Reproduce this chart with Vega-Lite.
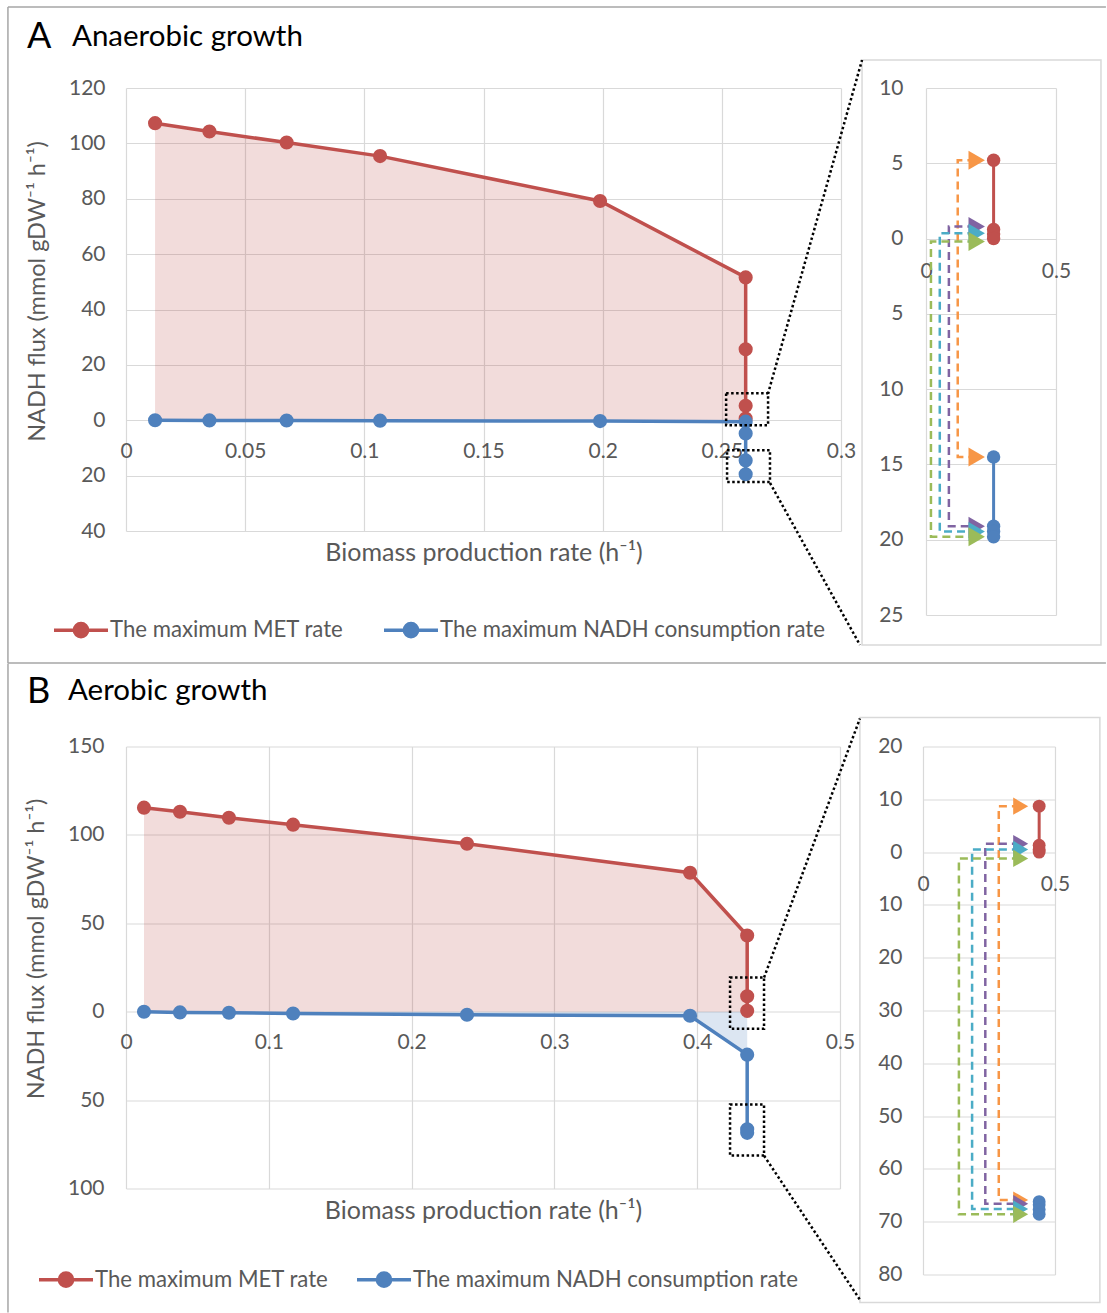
{
"$schema":"https://vega.github.io/schema/vega-lite/v6.json",
"background":"#ffffff",
"padding":{"left":7,"top":6,"right":0,"bottom":0},
"config":{
 "view":{"stroke":null},
 "axis":{"labelFont":"Lato","labelFontSize":21,"labelColor":"#595959","titleFont":"Lato","titleFontSize":24,"titleFontWeight":"normal","titleColor":"#595959","gridColor":"#d9d9d9","gridWidth":1.2,"domain":false,"ticks":false,"tickSize":0,"labelFlush":false,"labelOverlap":false},
 "axisX":{"titleFontSize":25},
 "axisY":{"titleFontSize":23.5}
},
"datasets":{
 "mainA":[
  {"s":"The maximum MET rate","i":1,"x":0.0122,"y":107.3},
  {"s":"The maximum MET rate","i":2,"x":0.035,"y":104.3},
  {"s":"The maximum MET rate","i":3,"x":0.0674,"y":100.3},
  {"s":"The maximum MET rate","i":4,"x":0.1066,"y":95.4},
  {"s":"The maximum MET rate","i":5,"x":0.1989,"y":79.2},
  {"s":"The maximum MET rate","i":6,"x":0.26,"y":51.6},
  {"s":"The maximum MET rate","i":7,"x":0.26,"y":25.6},
  {"s":"The maximum MET rate","i":8,"x":0.26,"y":5.2},
  {"s":"The maximum MET rate","i":9,"x":0.26,"y":0.6},
  {"s":"The maximum NADH consumption rate","i":1,"x":0.0122,"y":0},
  {"s":"The maximum NADH consumption rate","i":2,"x":0.035,"y":-0.05},
  {"s":"The maximum NADH consumption rate","i":3,"x":0.0674,"y":-0.1},
  {"s":"The maximum NADH consumption rate","i":4,"x":0.1066,"y":-0.15},
  {"s":"The maximum NADH consumption rate","i":5,"x":0.1989,"y":-0.3},
  {"s":"The maximum NADH consumption rate","i":6,"x":0.26,"y":-0.5},
  {"s":"The maximum NADH consumption rate","i":7,"x":0.26,"y":-4.8},
  {"s":"The maximum NADH consumption rate","i":8,"x":0.26,"y":-14.5},
  {"s":"The maximum NADH consumption rate","i":9,"x":0.26,"y":-19.5}
 ],
 "mainB":[
  {"s":"The maximum MET rate","i":1,"x":0.0126,"y":115.4},
  {"s":"The maximum MET rate","i":2,"x":0.0378,"y":113.1},
  {"s":"The maximum MET rate","i":3,"x":0.0721,"y":109.7},
  {"s":"The maximum MET rate","i":4,"x":0.117,"y":105.8},
  {"s":"The maximum MET rate","i":5,"x":0.2388,"y":95.0},
  {"s":"The maximum MET rate","i":6,"x":0.395,"y":78.6},
  {"s":"The maximum MET rate","i":7,"x":0.435,"y":43.1},
  {"s":"The maximum MET rate","i":8,"x":0.435,"y":8.7},
  {"s":"The maximum MET rate","i":9,"x":0.435,"y":0.5},
  {"s":"The maximum NADH consumption rate","i":1,"x":0.0126,"y":0},
  {"s":"The maximum NADH consumption rate","i":2,"x":0.0378,"y":-0.4},
  {"s":"The maximum NADH consumption rate","i":3,"x":0.0721,"y":-0.6},
  {"s":"The maximum NADH consumption rate","i":4,"x":0.117,"y":-1.0},
  {"s":"The maximum NADH consumption rate","i":5,"x":0.2388,"y":-1.7},
  {"s":"The maximum NADH consumption rate","i":6,"x":0.395,"y":-2.3},
  {"s":"The maximum NADH consumption rate","i":7,"x":0.435,"y":-24.3},
  {"s":"The maximum NADH consumption rate","i":8,"x":0.435,"y":-66.5},
  {"s":"The maximum NADH consumption rate","i":9,"x":0.435,"y":-68.5}
 ],
 "insA":[
  {"s":"The maximum MET rate","i":1,"x":0.26,"y":5.2},
  {"s":"The maximum MET rate","i":2,"x":0.26,"y":0.6},
  {"s":"The maximum MET rate","i":3,"x":0.26,"y":0.3},
  {"s":"The maximum MET rate","i":4,"x":0.26,"y":0},
  {"s":"The maximum NADH consumption rate","i":1,"x":0.26,"y":-14.5},
  {"s":"The maximum NADH consumption rate","i":2,"x":0.26,"y":-19.1},
  {"s":"The maximum NADH consumption rate","i":3,"x":0.26,"y":-19.45},
  {"s":"The maximum NADH consumption rate","i":4,"x":0.26,"y":-19.8}
 ],
 "connA":[
  {"s":"c1","i":1,"x":0.19,"y":5.2},{"s":"c1","i":2,"x":0.122,"y":5.2},{"s":"c1","i":3,"x":0.122,"y":-14.5},{"s":"c1","i":4,"x":0.19,"y":-14.5},
  {"s":"c2","i":1,"x":0.19,"y":0.8},{"s":"c2","i":2,"x":0.088,"y":0.8},{"s":"c2","i":3,"x":0.088,"y":-19.1},{"s":"c2","i":4,"x":0.19,"y":-19.1},
  {"s":"c3","i":1,"x":0.19,"y":0.35},{"s":"c3","i":2,"x":0.053,"y":0.35},{"s":"c3","i":3,"x":0.053,"y":-19.45},{"s":"c3","i":4,"x":0.19,"y":-19.45},
  {"s":"c4","i":1,"x":0.19,"y":-0.2},{"s":"c4","i":2,"x":0.019,"y":-0.2},{"s":"c4","i":3,"x":0.019,"y":-19.8},{"s":"c4","i":4,"x":0.19,"y":-19.8}
 ],
 "arrA":[
  {"s":"c1","x":0.195,"y":5.2},{"s":"c1","x":0.195,"y":-14.5},
  {"s":"c2","x":0.195,"y":0.8},{"s":"c2","x":0.195,"y":-19.1},
  {"s":"c3","x":0.195,"y":0.35},{"s":"c3","x":0.195,"y":-19.45},
  {"s":"c4","x":0.195,"y":-0.2},{"s":"c4","x":0.195,"y":-19.8}
 ],
 "insB":[
  {"s":"The maximum MET rate","i":1,"x":0.44,"y":8.7},
  {"s":"The maximum MET rate","i":2,"x":0.44,"y":1.3},
  {"s":"The maximum MET rate","i":3,"x":0.44,"y":0.5},
  {"s":"The maximum MET rate","i":4,"x":0.44,"y":0},
  {"s":"The maximum NADH consumption rate","i":1,"x":0.44,"y":-66.2},
  {"s":"The maximum NADH consumption rate","i":2,"x":0.44,"y":-66.8},
  {"s":"The maximum NADH consumption rate","i":3,"x":0.44,"y":-67.7},
  {"s":"The maximum NADH consumption rate","i":4,"x":0.44,"y":-68.6}
 ],
 "connB":[
  {"s":"c1","i":1,"x":0.367,"y":8.7},{"s":"c1","i":2,"x":0.287,"y":8.7},{"s":"c1","i":3,"x":0.287,"y":-65.9},{"s":"c1","i":4,"x":0.367,"y":-65.9},
  {"s":"c2","i":1,"x":0.367,"y":1.6},{"s":"c2","i":2,"x":0.236,"y":1.6},{"s":"c2","i":3,"x":0.236,"y":-66.6},{"s":"c2","i":4,"x":0.367,"y":-66.6},
  {"s":"c3","i":1,"x":0.367,"y":0.5},{"s":"c3","i":2,"x":0.186,"y":0.5},{"s":"c3","i":3,"x":0.186,"y":-67.6},{"s":"c3","i":4,"x":0.367,"y":-67.6},
  {"s":"c4","i":1,"x":0.367,"y":-1.2},{"s":"c4","i":2,"x":0.136,"y":-1.2},{"s":"c4","i":3,"x":0.136,"y":-68.6},{"s":"c4","i":4,"x":0.367,"y":-68.6}
 ],
 "arrB":[
  {"s":"c1","x":0.37,"y":8.7},{"s":"c1","x":0.37,"y":-65.9},
  {"s":"c2","x":0.37,"y":1.6},{"s":"c2","x":0.37,"y":-66.6},
  {"s":"c3","x":0.37,"y":0.5},{"s":"c3","x":0.37,"y":-67.6},
  {"s":"c4","x":0.37,"y":-1.2},{"s":"c4","x":0.37,"y":-68.6}
 ]
},
"spacing":-1.5,
"resolve":{"scale":{"color":"independent"},"legend":{"color":"independent"}},
"vconcat":[
 {
  "title":{"text":"A","anchor":"start","frame":"group","dx":-99,"offset":-50,"fontSize":36,"font":"Lato","fontWeight":"normal","color":"#000000"},
  "bounds":"flush",
  "spacing":85,
  "resolve":{"scale":{"color":"independent"},"legend":{"color":"independent"}},
  "hconcat":[
   {
    "width":715,"height":443,
    "title":{"text":"Anaerobic growth","anchor":"start","frame":"group","dx":-54,"offset":25,"fontSize":29.5,"font":"Lato","fontWeight":"normal","color":"#000000"},
    "layer":[
     {"data":{"name":"mainA"},"transform":[{"filter":"datum.s === 'The maximum MET rate'"}],
      "mark":{"type":"area","color":"#C0504D","opacity":0.2},
      "encoding":{
       "x":{"field":"x","type":"quantitative","scale":{"domain":[0,0.3],"nice":false,"zero":false},
            "axis":{"values":[0,0.05,0.1,0.15,0.2,0.25,0.3],"format":"~g","offset":-111,"labelPadding":20,"grid":true,"title":"Biomass production rate (h⁻¹)","titlePadding":79}},
       "y":{"field":"y","type":"quantitative","scale":{"domain":[-40,120],"nice":false,"zero":false},
            "axis":{"values":[-40,-20,0,20,40,60,80,100,120],"labelExpr":"format(abs(datum.value),'~g')","labelPadding":21,"grid":true,"title":"NADH flux (mmol gDW⁻¹ h⁻¹)","titlePadding":19,"titleY":203}},
       "y2":{"datum":0}
      }},
     {"data":{"name":"mainA"},"transform":[{"filter":"datum.s === 'The maximum NADH consumption rate'"}],
      "mark":{"type":"area","color":"#4F81BD","opacity":0.2},
      "encoding":{"x":{"field":"x","type":"quantitative"},"y":{"field":"y","type":"quantitative"},"y2":{"datum":0}}},
     {"data":{"name":"mainA"},
      "mark":{"type":"line","strokeWidth":3.5},
      "encoding":{"x":{"field":"x","type":"quantitative"},"y":{"field":"y","type":"quantitative"},
       "order":{"field":"i","type":"quantitative"},
       "color":{"field":"s","type":"nominal","scale":{"domain":["The maximum MET rate","The maximum NADH consumption rate"],"range":["#C0504D","#4F81BD"]},
        "legend":{"orient":"none","legendX":-59,"legendY":528,"direction":"horizontal","title":null,"labelLimit":0,
         "symbolType":"M-2.25,0H2.25M0.55,0A0.55,0.55,0,1,1,-0.55,0A0.55,0.55,0,1,1,0.55,0Z","symbolSize":576,"symbolStrokeWidth":3.5,
         "labelOffset":15,"columnPadding":33,"labelFontSize":22.2,"labelFont":"Lato","labelColor":"#595959",
         "encode":{"symbols":{"update":{"fill":{"signal":"datum.value === 'The maximum MET rate' ? '#C0504D' : '#4F81BD'"},"stroke":{"signal":"datum.value === 'The maximum MET rate' ? '#C0504D' : '#4F81BD'"},"strokeWidth":{"value":3.5},"opacity":{"value":1}}}}}}}},
     {"data":{"name":"mainA"},
      "mark":{"type":"point","filled":true,"size":200,"opacity":1},
      "encoding":{"x":{"field":"x","type":"quantitative"},"y":{"field":"y","type":"quantitative"},"color":{"field":"s","type":"nominal"}}},
     {"data":{"values":[{}]},"mark":{"type":"rect","fill":"transparent","stroke":"#000000","strokeWidth":2.5,"strokeDash":[2.5,2.5]},
      "encoding":{"x":{"datum":0.2518,"type":"quantitative"},"x2":{"datum":0.2694},"y":{"datum":9.75,"type":"quantitative"},"y2":{"datum":-1.8}}},
     {"data":{"values":[{}]},"mark":{"type":"rect","fill":"transparent","stroke":"#000000","strokeWidth":2.5,"strokeDash":[2.5,2.5]},
      "encoding":{"x":{"datum":0.2522,"type":"quantitative"},"x2":{"datum":0.2702},"y":{"datum":-10.8,"type":"quantitative"},"y2":{"datum":-22.3}}}
    ]
   },
   {
    "width":130,"height":527,
    "layer":[
     {"data":{"values":[{}]},"mark":{"type":"rect","fill":"transparent","stroke":"#d9d9d9","strokeWidth":1.5},
      "encoding":{
       "x":{"datum":-0.246,"type":"quantitative","scale":{"domain":[0,0.5],"nice":false,"zero":false},
            "axis":{"values":[0,0.5],"format":"~g","offset":-376,"labelPadding":21,"grid":true,"title":null}},
       "x2":{"datum":0.673},
       "y":{"datum":11.86,"type":"quantitative","scale":{"domain":[-25,10],"nice":false,"zero":false},
            "axis":{"values":[-25,-20,-15,-10,-5,0,5,10],"labelExpr":"format(abs(datum.value),'~g')","labelPadding":23,"grid":true,"title":null}},
       "y2":{"datum":-26.99}}},
     {"data":{"values":[{}]},"mark":{"type":"rule","stroke":"#a6a6a6","strokeWidth":1.5},
      "encoding":{"x":{"datum":-3.531,"type":"quantitative"},"x2":{"datum":0.692},"y":{"datum":15.38,"type":"quantitative"}}},
     {"data":{"values":[{}]},"mark":{"type":"rule","stroke":"#a6a6a6","strokeWidth":1.5},
      "encoding":{"x":{"datum":-3.531,"type":"quantitative"},"y":{"datum":15.38,"type":"quantitative"},"y2":{"datum":-28.19}}},
     {"data":{"values":[{}]},"mark":{"type":"rule","stroke":"#a6a6a6","strokeWidth":1.5},
      "encoding":{"x":{"datum":-3.531,"type":"quantitative"},"x2":{"datum":0.692},"y":{"datum":-28.19,"type":"quantitative"}}},
     {"data":{"values":[{}]},"mark":{"type":"rule","stroke":"#000000","strokeWidth":2.5,"strokeDash":[2.5,2.5]},
      "encoding":{"x":{"datum":-0.608,"type":"quantitative"},"x2":{"datum":-0.246},"y":{"datum":-10.32,"type":"quantitative"},"y2":{"datum":11.86}}},
     {"data":{"values":[{}]},"mark":{"type":"rule","stroke":"#000000","strokeWidth":2.5,"strokeDash":[2.5,2.5]},
      "encoding":{"x":{"datum":-0.6,"type":"quantitative"},"x2":{"datum":-0.254},"y":{"datum":-16.23,"type":"quantitative"},"y2":{"datum":-26.99}}},
     {"data":{"name":"connA"},"mark":{"type":"line","strokeWidth":2.5,"strokeDash":[8,5]},
      "encoding":{"x":{"field":"x","type":"quantitative"},"y":{"field":"y","type":"quantitative"},"order":{"field":"i","type":"quantitative"},
       "color":{"field":"s","type":"nominal","legend":null,"scale":{"domain":["The maximum MET rate","The maximum NADH consumption rate","c1","c2","c3","c4"],"range":["#C0504D","#4F81BD","#F79646","#8064A2","#4BACC6","#9BBB59"]}}}},
     {"data":{"name":"arrA"},"mark":{"type":"point","shape":"triangle-right","filled":true,"size":360,"opacity":1},
      "encoding":{"x":{"field":"x","type":"quantitative"},"y":{"field":"y","type":"quantitative"},"color":{"field":"s","type":"nominal","legend":null}}},
     {"data":{"name":"insA"},"mark":{"type":"line","strokeWidth":3},
      "encoding":{"x":{"field":"x","type":"quantitative"},"y":{"field":"y","type":"quantitative"},"order":{"field":"i","type":"quantitative"},"color":{"field":"s","type":"nominal","legend":null}}},
     {"data":{"name":"insA"},"mark":{"type":"point","filled":true,"size":180,"opacity":1},
      "encoding":{"x":{"field":"x","type":"quantitative"},"y":{"field":"y","type":"quantitative"},"color":{"field":"s","type":"nominal","legend":null}}}
    ]
   }
  ]
 },
 {
  "title":{"text":"B","anchor":"start","frame":"group","dx":-99,"offset":-48,"fontSize":36,"font":"Lato","fontWeight":"normal","color":"#000000"},
  "bounds":"flush",
  "spacing":83,
  "resolve":{"scale":{"color":"independent"},"legend":{"color":"independent"}},
  "hconcat":[
   {
    "width":714,"height":442,
    "title":{"text":"Aerobic growth","anchor":"start","frame":"group","dx":-58,"offset":29,"fontSize":29.5,"font":"Lato","fontWeight":"normal","color":"#000000"},
    "layer":[
     {"data":{"name":"mainB"},"transform":[{"filter":"datum.s === 'The maximum MET rate'"}],
      "mark":{"type":"area","color":"#C0504D","opacity":0.2},
      "encoding":{
       "x":{"field":"x","type":"quantitative","scale":{"domain":[0,0.5],"nice":false,"zero":false},
            "axis":{"values":[0,0.1,0.2,0.3,0.4,0.5],"format":"~g","offset":-177,"labelPadding":20,"grid":true,"title":"Biomass production rate (h⁻¹)","titlePadding":146}},
       "y":{"field":"y","type":"quantitative","scale":{"domain":[-100,150],"nice":false,"zero":false},
            "axis":{"values":[-100,-50,0,50,100,150],"labelExpr":"format(abs(datum.value),'~g')","labelPadding":22,"grid":true,"title":"NADH flux (mmol gDW⁻¹ h⁻¹)","titlePadding":19,"titleY":202}},
       "y2":{"datum":0}
      }},
     {"data":{"name":"mainB"},"transform":[{"filter":"datum.s === 'The maximum NADH consumption rate'"}],
      "mark":{"type":"area","color":"#4F81BD","opacity":0.2},
      "encoding":{"x":{"field":"x","type":"quantitative"},"y":{"field":"y","type":"quantitative"},"y2":{"datum":0}}},
     {"data":{"name":"mainB"},
      "mark":{"type":"line","strokeWidth":3.5},
      "encoding":{"x":{"field":"x","type":"quantitative"},"y":{"field":"y","type":"quantitative"},
       "order":{"field":"i","type":"quantitative"},
       "color":{"field":"s","type":"nominal","scale":{"domain":["The maximum MET rate","The maximum NADH consumption rate"],"range":["#C0504D","#4F81BD"]},
        "legend":{"orient":"none","legendX":-74,"legendY":519,"direction":"horizontal","title":null,"labelLimit":0,
         "symbolType":"M-2.25,0H2.25M0.55,0A0.55,0.55,0,1,1,-0.55,0A0.55,0.55,0,1,1,0.55,0Z","symbolSize":576,"symbolStrokeWidth":3.5,
         "labelOffset":15,"columnPadding":21,"labelFontSize":22.2,"labelFont":"Lato","labelColor":"#595959",
         "encode":{"symbols":{"update":{"fill":{"signal":"datum.value === 'The maximum MET rate' ? '#C0504D' : '#4F81BD'"},"stroke":{"signal":"datum.value === 'The maximum MET rate' ? '#C0504D' : '#4F81BD'"},"strokeWidth":{"value":3.5},"opacity":{"value":1}}}}}}}},
     {"data":{"name":"mainB"},
      "mark":{"type":"point","filled":true,"size":200,"opacity":1},
      "encoding":{"x":{"field":"x","type":"quantitative"},"y":{"field":"y","type":"quantitative"},"color":{"field":"s","type":"nominal"}}},
     {"data":{"values":[{}]},"mark":{"type":"rect","fill":"transparent","stroke":"#000000","strokeWidth":2.5,"strokeDash":[2.5,2.5]},
      "encoding":{"x":{"datum":0.423,"type":"quantitative"},"x2":{"datum":0.4468},"y":{"datum":19.4,"type":"quantitative"},"y2":{"datum":-9.6}}},
     {"data":{"values":[{}]},"mark":{"type":"rect","fill":"transparent","stroke":"#000000","strokeWidth":2.5,"strokeDash":[2.5,2.5]},
      "encoding":{"x":{"datum":0.423,"type":"quantitative"},"x2":{"datum":0.4468},"y":{"datum":-52.5,"type":"quantitative"},"y2":{"datum":-81.4}}}
    ]
   },
   {
    "width":132,"height":528,
    "layer":[
     {"data":{"values":[{}]},"mark":{"type":"rect","fill":"transparent","stroke":"#d9d9d9","strokeWidth":1.5},
      "encoding":{
       "x":{"datum":-0.239,"type":"quantitative","scale":{"domain":[0,0.5],"nice":false,"zero":false},
            "axis":{"values":[0,0.5],"format":"~g","offset":-422,"labelPadding":21,"grid":true,"title":null}},
       "x2":{"datum":0.67},
       "y":{"datum":25.49,"type":"quantitative","scale":{"domain":[-80,20],"nice":false,"zero":false},
            "axis":{"values":[-80,-70,-60,-50,-40,-30,-20,-10,0,10,20],"labelExpr":"format(abs(datum.value),'~g')","labelPadding":21,"grid":true,"title":null}},
       "y2":{"datum":-85.3}}},
     {"data":{"values":[{}]},"mark":{"type":"rule","stroke":"#a6a6a6","strokeWidth":1.5},
      "encoding":{"x":{"datum":-3.466,"type":"quantitative"},"y":{"datum":35.72,"type":"quantitative"},"y2":{"datum":-87.2}}},
     {"data":{"values":[{}]},"mark":{"type":"rule","stroke":"#000000","strokeWidth":2.5,"strokeDash":[2.5,2.5]},
      "encoding":{"x":{"datum":-0.602,"type":"quantitative"},"x2":{"datum":-0.239},"y":{"datum":-23.75,"type":"quantitative"},"y2":{"datum":25.3}}},
     {"data":{"values":[{}]},"mark":{"type":"rule","stroke":"#000000","strokeWidth":2.5,"strokeDash":[2.5,2.5]},
      "encoding":{"x":{"datum":-0.602,"type":"quantitative"},"x2":{"datum":-0.239},"y":{"datum":-57.5,"type":"quantitative"},"y2":{"datum":-84.77}}},
     {"data":{"name":"connB"},"mark":{"type":"line","strokeWidth":2.5,"strokeDash":[8,5]},
      "encoding":{"x":{"field":"x","type":"quantitative"},"y":{"field":"y","type":"quantitative"},"order":{"field":"i","type":"quantitative"},
       "color":{"field":"s","type":"nominal","legend":null,"scale":{"domain":["The maximum MET rate","The maximum NADH consumption rate","c1","c2","c3","c4"],"range":["#C0504D","#4F81BD","#F79646","#8064A2","#4BACC6","#9BBB59"]}}}},
     {"data":{"name":"arrB"},"mark":{"type":"point","shape":"triangle-right","filled":true,"size":300,"opacity":1},
      "encoding":{"x":{"field":"x","type":"quantitative"},"y":{"field":"y","type":"quantitative"},"color":{"field":"s","type":"nominal","legend":null}}},
     {"data":{"name":"insB"},"mark":{"type":"line","strokeWidth":3},
      "encoding":{"x":{"field":"x","type":"quantitative"},"y":{"field":"y","type":"quantitative"},"order":{"field":"i","type":"quantitative"},"color":{"field":"s","type":"nominal","legend":null}}},
     {"data":{"name":"insB"},"mark":{"type":"point","filled":true,"size":165,"opacity":1},
      "encoding":{"x":{"field":"x","type":"quantitative"},"y":{"field":"y","type":"quantitative"},"color":{"field":"s","type":"nominal","legend":null}}}
    ]
   }
  ]
 }
]
}
